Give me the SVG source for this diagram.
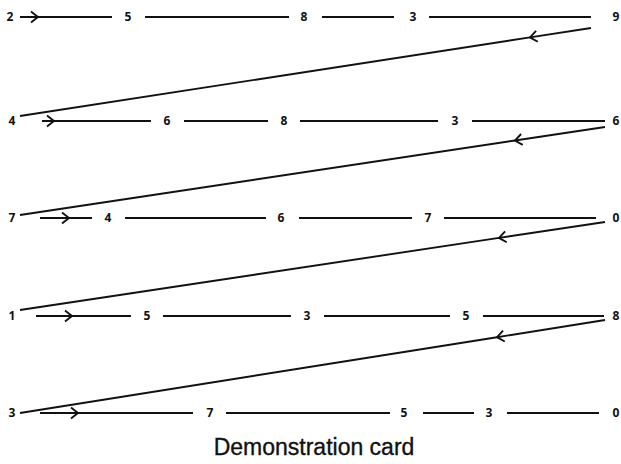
<svg xmlns="http://www.w3.org/2000/svg" width="621" height="464" viewBox="0 0 621 464">
<style>
.n{font-family:"Open Sans","DejaVu Sans",sans-serif;font-weight:700;font-size:12px;text-anchor:middle;fill:#111}
.l{fill:none;stroke:#111;stroke-width:1.9}
.t{font-family:"Liberation Sans",Arial,sans-serif;font-size:23px;text-anchor:middle;fill:#111;stroke:#111;stroke-width:0.35}
</style>
<defs>
<marker id="chev" markerUnits="userSpaceOnUse" markerWidth="14" markerHeight="14" viewBox="-8 -7 10 14" refX="0" refY="0" orient="auto" overflow="visible">
<path d="M-7,-5.5 L0,0 L-7,5.5" fill="none" stroke="#111" stroke-width="1.9"/>
</marker>
</defs>
<rect width="621" height="464" fill="#fff"/>
<g id="row1">
<text class="n" x="10" y="21">2</text><text class="n" x="128" y="21">5</text><text class="n" x="304" y="21">8</text><text class="n" x="413" y="21">3</text><text class="n" x="616" y="21">9</text>
</g>
<g id="row2">
<text class="n" x="12" y="125">4</text><text class="n" x="167" y="125">6</text><text class="n" x="284" y="125">8</text><text class="n" x="455" y="125">3</text><text class="n" x="616" y="125">6</text>
</g>
<g id="row3">
<text class="n" x="12" y="222">7</text><text class="n" x="108" y="222">4</text><text class="n" x="281" y="222">6</text><text class="n" x="428" y="222">7</text><text class="n" x="616" y="222">0</text>
</g>
<g id="row4">
<text class="n" x="12" y="320">1</text><text class="n" x="147" y="320">5</text><text class="n" x="307" y="320">3</text><text class="n" x="466" y="320">5</text><text class="n" x="616" y="320">8</text>
</g>
<g id="row5">
<text class="n" x="12" y="417">3</text><text class="n" x="210" y="417">7</text><text class="n" x="404" y="417">5</text><text class="n" x="489" y="417">3</text><text class="n" x="616" y="417">0</text>
</g>
<g id="connectors">
<path class="l" d="M20,17 L38,17 L112,17" marker-mid="url(#chev)"/>
<path class="l" d="M145,17 H289 M322,17 H394 M429,17 H591"/>
<path class="l" d="M591,28 L530,37.4 L20,116" marker-mid="url(#chev)"/>
<path class="l" d="M42,121 L54,121 L151,121" marker-mid="url(#chev)"/>
<path class="l" d="M184,121 H268 M300,121 H438 M472,121 H605"/>
<path class="l" d="M605,127 L515,140.5 L20,215" marker-mid="url(#chev)"/>
<path class="l" d="M40,218 L69,218 L92,218" marker-mid="url(#chev)"/>
<path class="l" d="M125,218 H266 M299,218 H412 M444,218 H596"/>
<path class="l" d="M605,222 L499,237.9 L20,310" marker-mid="url(#chev)"/>
<path class="l" d="M36,316 L72,316 L131,316" marker-mid="url(#chev)"/>
<path class="l" d="M163,316 H291 M324,316 H450 M483,316 H604"/>
<path class="l" d="M605,320 L497,337.2 L20,413" marker-mid="url(#chev)"/>
<path class="l" d="M40,413 L78,413 L193,413" marker-mid="url(#chev)"/>
<path class="l" d="M226,413 H390 M423,413 H474 M507,413 H599"/>
</g>
<text class="t" x="314" y="455">Demonstration card</text>
</svg>
